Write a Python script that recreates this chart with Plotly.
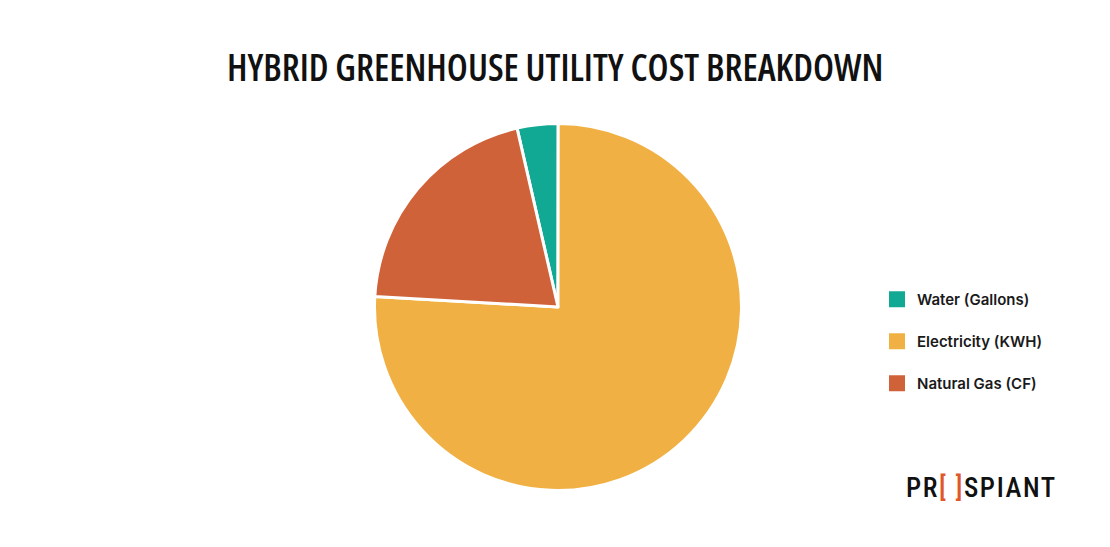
import plotly.graph_objects as go

labels = ["Water (Gallons)", "Electricity (KWH)", "Natural Gas (CF)"]
values = [3.6, 75.9, 20.5]
colors = ["#12A994", "#F0B043", "#D0623A"]
title = "HYBRID GREENHOUSE UTILITY COST BREAKDOWN"

W, H = 1110, 547
cx, cy, r = 550, 299, 183.5   # figure coords (page has 8px body margin)

fig = go.Figure()
fig.add_trace(go.Pie(
    labels=labels,
    values=values,
    sort=False,
    direction="clockwise",
    rotation=-12.9,
    marker=dict(colors=colors, line=dict(color="white", width=3)),
    textinfo="none",
    hoverinfo="label+percent",
    showlegend=False,
    domain=dict(x=[(cx - r) / W, (cx + r) / W], y=[(H - cy - r) / H, (H - cy + r) / H]),
))

# legend entries (square swatches) built from the same labels / colors
for lab, col in zip(labels, colors):
    fig.add_trace(go.Scatter(
        x=[None], y=[None], mode="markers", name=lab + "<br> ",
        marker=dict(symbol="square", size=16, color=col, line=dict(width=0)),
        hoverinfo="skip", showlegend=True,
    ))

fig.update_layout(
    width=W, height=H,
    margin=dict(l=0, r=0, t=0, b=0),
    paper_bgcolor="white",
    plot_bgcolor="white",
    xaxis=dict(visible=False),
    yaxis=dict(visible=False),
    legend=dict(
        x=869 / W, y=1 - 275 / H, xanchor="left", yanchor="top",
        font=dict(family="Inter", size=15, color="#1a1a1a", weight=600),
        valign="top", itemsizing="trace",
        itemclick=False, itemdoubleclick=False,
    ),
    annotations=[
        dict(text="<span style='font-stretch:75%'>" + title + "</span>",
             x=547 / W, y=1 - 58 / H, xref="paper", yref="paper",
             xanchor="center", yanchor="middle", showarrow=False,
             font=dict(family="Open Sans", size=37, color="#111111", weight=600)),
        dict(text="<span style='letter-spacing:1.6px'>PR<span style='color:#E0582A'>[ ]</span>SPIANT</span>",
             x=1051 / W, y=1 - 480 / H, xref="paper", yref="paper",
             xanchor="right", yanchor="middle", showarrow=False,
             font=dict(family="Roboto Condensed", size=27, color="#111111", weight=500)),
    ],
)

fig.write_html("out.html")
